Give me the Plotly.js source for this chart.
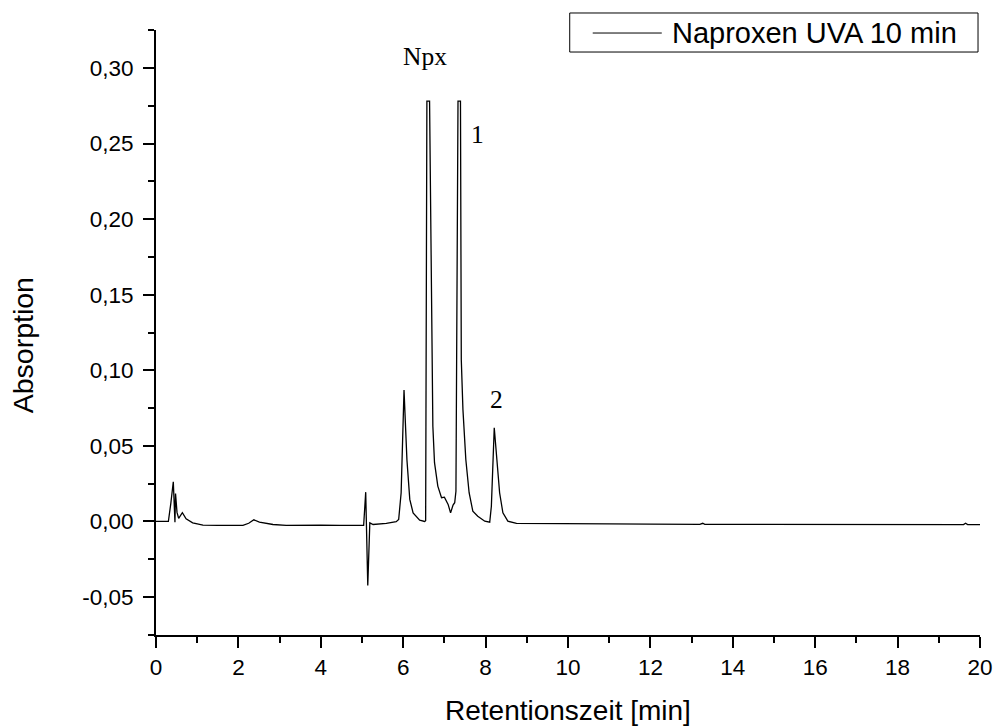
<!DOCTYPE html>
<html>
<head>
<meta charset="utf-8">
<script src="https://cdn.plot.ly/plotly-3.0.1.min.js"></script>
<style>html,body{margin:0;padding:0;background:#fff;}#chart{width:996px;height:726px;}</style>
</head>
<body>
<div id="chart"></div>
<script>
// Retention time [min]
const time = [0, 0.30, 0.36, 0.42, 0.46, 0.474, 0.51, 0.55, 0.64, 0.73, 0.89, 1.14, 1.5, 2.11, 2.25, 2.375, 2.51, 2.84, 3.16, 3.65, 4.0, 4.46, 5.04, 5.09, 5.14, 5.19, 5.27, 5.59, 5.83, 5.89, 5.95, 6.02, 6.09, 6.16, 6.24, 6.40, 6.52, 6.545, 6.575, 6.64, 6.69, 6.72, 6.76, 6.84, 6.93, 7.0, 7.09, 7.15, 7.21, 7.25, 7.28, 7.33, 7.39, 7.41, 7.45, 7.52, 7.60, 7.69, 7.81, 7.98, 8.10, 8.14, 8.21, 8.28, 8.34, 8.42, 8.54, 8.75, 9.31, 10, 11, 12, 13.2, 13.27, 13.32, 14, 15, 16, 17, 18, 19, 19.6, 19.65, 19.7, 20];
// Absorption
const absorption = [0, 0, 0.012, 0.0263, -0.0005, 0.0185, 0.006, 0.002, 0.0058, 0.0018, -0.0009, -0.0024, -0.0026, -0.0026, -0.0012, 0.0011, -0.0005, -0.002, -0.0026, -0.0022, -0.0024, -0.0026, -0.0026, 0.0194, -0.0424, -0.0009, -0.002, -0.0013, -0.0001, 0.0013, 0.019, 0.0869, 0.041, 0.0146, 0.0057, 0.0009, 0.0, 0.0005, 0.278, 0.278, 0.107, 0.063, 0.0389, 0.0234, 0.0157, 0.0161, 0.0113, 0.0057, 0.0108, 0.0124, 0.02, 0.278, 0.278, 0.107, 0.074, 0.041, 0.019, 0.0068, 0.0035, 0.0002, -0.0005, 0.0101, 0.062, 0.041, 0.019, 0.0057, 0.0002, -0.0013, -0.0013, -0.0015, -0.0016, -0.0018, -0.0019, -0.0012, -0.0019, -0.0019, -0.002, -0.002, -0.002, -0.002, -0.0021, -0.0021, -0.0012, -0.0021, -0.0021];

// Tick labels
const yTickVals = [-0.05, 0, 0.05, 0.10, 0.15, 0.20, 0.25, 0.30];
const yTickText = ["-0,05", "0,00", "0,05", "0,10", "0,15", "0,20", "0,25", "0,30"];

const seriesName = "Naproxen UVA 10 min";
const xTitle = "Retentionszeit [min]";
const yTitle = "Absorption";
const peakLabels = ["Npx", "1", "2"];
const peakLabelX = [6.52, 7.81, 8.27];
const peakLabelY = [0.3075, 0.2559, 0.0808];

const sans = "Arial, 'Liberation Sans', sans-serif";
const serif = "'Times New Roman', 'Liberation Serif', serif";

const trace = {
  x: time, y: absorption, type: "scatter", mode: "lines",
  name: seriesName, line: {color: "#000", width: 1.3}, showlegend: false
};

const annotations = peakLabels.map((t, i) => ({
  x: peakLabelX[i], y: peakLabelY[i], xref: "x", yref: "y", text: t,
  showarrow: false, xanchor: "center", yanchor: "middle",
  font: {family: serif, size: 25.5, color: "#000"}
}));
annotations.push({
  x: 0.5, y: -0.124, xref: "paper", yref: "paper", text: xTitle, showarrow: false,
  xanchor: "center", yanchor: "middle", font: {family: sans, size: 28, color: "#000"}
});
annotations.push({
  x: -0.162, y: 0.478, xref: "paper", yref: "paper", text: yTitle, showarrow: false,
  textangle: -90, xanchor: "center", yanchor: "middle", font: {family: sans, size: 28.5, color: "#000"}
});
annotations.push({
  x: 0.6236, y: 0.995, xref: "paper", yref: "paper", text: seriesName, showarrow: false,
  xanchor: "left", yanchor: "middle", font: {family: sans, size: 29, color: "#000"}
});

const layout = {
  width: 996, height: 726,
  margin: {l: 156, r: 16, t: 30, b: 91},
  paper_bgcolor: "#fff", plot_bgcolor: "#fff",
  separators: ", ",
  showlegend: false,
  xaxis: {
    range: [0, 20], dtick: 2, tick0: 0, showgrid: false, zeroline: false,
    showline: true, linecolor: "#000", linewidth: 2,
    ticks: "outside", ticklen: 11, tickwidth: 2, tickcolor: "#000",
    tickfont: {family: sans, size: 22.5, color: "#000"},
    minor: {dtick: 1, ticks: "outside", ticklen: 6, tickwidth: 2, tickcolor: "#000", showgrid: false},
    fixedrange: true
  },
  yaxis: {
    range: [-0.0751, 0.3251], tickmode: "array", tickvals: yTickVals, ticktext: yTickText,
    showgrid: false, zeroline: false,
    showline: true, linecolor: "#000", linewidth: 2,
    ticks: "outside", ticklen: 11, tickwidth: 2, tickcolor: "#000",
    ticklabelstandoff: 5,
    tickfont: {family: sans, size: 22.5, color: "#000"},
    minor: {tickmode: "linear", tick0: 0, dtick: 0.025, ticks: "outside", ticklen: 6, tickwidth: 2, tickcolor: "#000", showgrid: false},
    fixedrange: true
  },
  shapes: [
    {type: "rect", xref: "paper", yref: "paper", x0: 0.5021, x1: 0.9976, y0: 0.9636, y1: 1.0281,
     line: {color: "#000", width: 1}, fillcolor: "#fff", layer: "above"},
    {type: "line", xref: "paper", yref: "paper", x0: 0.530, x1: 0.6138, y0: 0.995, y1: 0.995,
     line: {color: "#000", width: 1}, layer: "above"}
  ],
  annotations: annotations
};

Plotly.newPlot("chart", [trace], layout, {staticPlot: true, displayModeBar: false});
</script>
</body>
</html>
